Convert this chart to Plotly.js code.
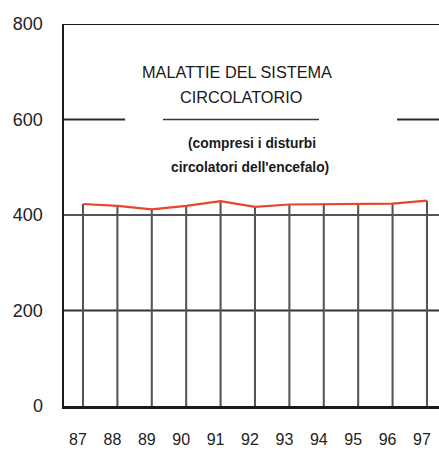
<!DOCTYPE html>
<html>
<head>
<meta charset="utf-8">
<script src="https://cdn.plot.ly/plotly-3.0.1.min.js"></script>
<style>html,body{margin:0;padding:0;background:#fff;}#chart{width:439px;height:450px;}</style>
</head>
<body>
<div id="chart"></div>
<script>
// Data
const years = ['87','88','89','90','91','92','93','94','95','96','97'];
const values = [423, 419, 412, 419, 429, 417, 422, 423, 423, 424, 430];
const yTicks = [0, 200, 400, 600, 800];
const yTickLabels = ['0', '200', '400', '600', '800'];

const FONT = '"Liberation Sans", Arial, Helvetica, sans-serif';

const dropLines = {
  type: 'bar',
  x: years,
  y: values,
  width: 0.06,
  marker: {color: '#555555', line: {width: 0}},
  hoverinfo: 'skip'
};
const redLine = {
  type: 'scatter',
  mode: 'lines',
  x: years,
  y: values,
  line: {color: '#e8452c', width: 2.2},
  hoverinfo: 'skip'
};

function hline(y, x0, x1, color, w) {
  return {type: 'line', xref: 'paper', yref: 'y', x0: x0, x1: x1, y0: y, y1: y,
          line: {color: color, width: w}, layer: 'below'};
}

const layout = {
  width: 439, height: 450,
  margin: {l: 64, r: 0, t: 24, b: 43.5},
  paper_bgcolor: '#ffffff', plot_bgcolor: '#ffffff',
  showlegend: false,
  font: {family: FONT, color: '#222222'},
  xaxis: {
    type: 'category',
    range: [-0.552, 10.35],
    showgrid: false, zeroline: false,
    showline: true, linecolor: '#1a1a1a', linewidth: 2.5,
    ticks: '', tickfont: {size: 16, color: '#222222', family: FONT},
    ticklabelstandoff: 17, ticklabelshift: -5
  },
  yaxis: {
    range: [0, 800],
    showgrid: false, zeroline: false,
    showline: true, linecolor: '#1a1a1a', linewidth: 2.5,
    ticks: '', tickvals: yTicks, ticktext: yTickLabels,
    tickfont: {size: 18, color: '#222222', family: FONT},
    ticklabelstandoff: 15
  },
  shapes: [
    hline(800, 0, 1, '#1a1a1a', 2.2),
    hline(600, 0, 0.163, '#2a2a2a', 2),
    hline(600, 0.264, 0.68, '#3a3a3a', 1.5),
    hline(600, 0.888, 1, '#2a2a2a', 2),
    hline(400, 0, 1, '#555555', 2),
    hline(200, 0, 1, '#333333', 2)
  ],
  annotations: [
    {text: 'MALATTIE DEL SISTEMA', xref: 'paper', yref: 'paper', x: 0.461, y: 0.874,
     showarrow: false, xanchor: 'center', yanchor: 'middle',
     font: {size: 16.3, color: '#1a1a1a', family: FONT}},
    {text: 'CIRCOLATORIO', xref: 'paper', yref: 'paper', x: 0.473, y: 0.809,
     showarrow: false, xanchor: 'center', yanchor: 'middle',
     font: {size: 16.3, color: '#1a1a1a', family: FONT}},
    {text: '(compresi i disturbi', xref: 'paper', yref: 'paper', x: 0.501, y: 0.686,
     showarrow: false, xanchor: 'center', yanchor: 'middle',
     font: {size: 13.8, color: '#1a1a1a', family: FONT, weight: 'bold'}},
    {text: "circolatori dell'encefalo)", xref: 'paper', yref: 'paper', x: 0.496, y: 0.624,
     showarrow: false, xanchor: 'center', yanchor: 'middle',
     font: {size: 13.8, color: '#1a1a1a', family: FONT, weight: 'bold'}}
  ]
};

Plotly.newPlot('chart', [dropLines, redLine], layout, {staticPlot: true, displayModeBar: false});
</script>
</body>
</html>
